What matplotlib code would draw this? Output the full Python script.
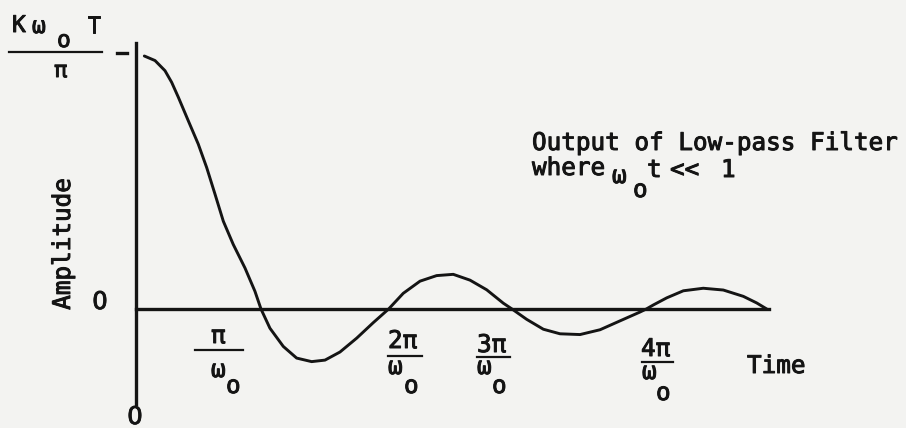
import matplotlib
matplotlib.use("Agg")
import matplotlib.pyplot as plt
from matplotlib.lines import Line2D
import matplotlib.patheffects as pe

W, H = 906, 428

# curve: time in units of pi/omega_o, amplitude relative to the peak
TIME = [0.066, 0.151, 0.230, 0.283, 0.336, 0.415, 0.494, 0.561, 0.627, 0.693,
        0.772, 0.865, 0.944, 0.992,
        1.063, 1.169, 1.275, 1.394, 1.500, 1.619, 1.752, 1.883, 2.005,
        2.121, 2.254, 2.386, 2.518, 2.651, 2.783, 2.915, 2.984,
        3.101, 3.233, 3.365, 3.524, 3.683, 3.841, 4.000, 4.050,
        4.106, 4.212, 4.344, 4.502, 4.661, 4.820, 4.926, 5.006]
AMPLITUDE = [1.000, 0.982, 0.942, 0.896, 0.837, 0.744, 0.652, 0.559, 0.454, 0.347,
             0.255, 0.162, 0.070, 0.0,
             -0.076, -0.148, -0.194, -0.208, -0.202, -0.170, -0.115, -0.054, 0.0,
             0.062, 0.110, 0.132, 0.137, 0.114, 0.076, 0.023, 0.0,
             -0.041, -0.080, -0.098, -0.101, -0.082, -0.047, -0.012, 0.0,
             0.016, 0.044, 0.072, 0.082, 0.075, 0.050, 0.024, 0.0]

TICK_NUMERATORS = ["π", "2π", "3π", "4π"]

INK = "#141414"
PAPER = "#f3f3f1"
FONT = "DejaVu Sans Mono"
FS = 17.5
HEAVY = [pe.withStroke(linewidth=0.7, foreground=INK)]

# pixel mapping of the scan
ORIGIN_PX = 136
PX_PER_T = 126
ZERO_PY = 309
PX_PER_AMP = 253

# fraction label layout in pixels: num_x, num_base, bar_x0, bar_x1, bar_y, om_x, om_base, o_x, o_base
TICK_LAYOUT = [
    (211, 343, 195, 243, 350, 211, 377, 226, 393),
    (388, 348, 388, 422, 356, 388, 374, 404, 393),
    (477, 352, 477, 510, 357, 477, 374, 492, 393),
    (641, 356, 642, 673, 362, 642, 379, 656, 400),
]

fig = plt.figure(figsize=(W / 100, H / 100), dpi=100, facecolor=PAPER)
ax = fig.add_axes([0, 0, 1, 1])
ax.set_facecolor(PAPER)
ax.set_xlim(-ORIGIN_PX / PX_PER_T, (W - ORIGIN_PX) / PX_PER_T)
ax.set_ylim((ZERO_PY - H) / PX_PER_AMP, ZERO_PY / PX_PER_AMP)

ax.plot(TIME, AMPLITUDE, color=INK, lw=2.1, solid_joinstyle="round",
        solid_capstyle="round", zorder=3)

for side in ("top", "right"):
    ax.spines[side].set_visible(False)
ax.spines["left"].set_position(("data", 0))
ax.spines["bottom"].set_position(("data", 0))
ax.spines["left"].set_bounds(-0.375, 1.05)
ax.spines["bottom"].set_bounds(0, TIME[-1] + 0.02)
for side in ("left", "bottom"):
    ax.spines[side].set_linewidth(2.4)
    ax.spines[side].set_color(INK)
ax.set_xticks([])
ax.set_yticks([])


def put(x, y, s, **kw):
    opts = dict(family=FONT, fontsize=FS, color=INK, ha="left", va="baseline",
                path_effects=HEAVY)
    opts.update(kw)
    fig.text(x / W, 1 - y / H, s, **opts)


def bar(x0, x1, y, lw=1.6):
    fig.add_artist(Line2D([x0 / W, x1 / W], [1 - y / H, 1 - y / H],
                          transform=fig.transFigure, color=INK, lw=lw))


# x tick labels as typed fractions
for num, (nx, nb, bx0, bx1, by, ox, ob, sx, sb) in zip(TICK_NUMERATORS, TICK_LAYOUT):
    put(nx, nb, num)
    bar(bx0, bx1, by)
    put(ox, ob, "ω")
    put(sx, sb, "o")

# top y label  K w_o T / pi
put(12, 32, "K", fontsize=16.5)
put(32, 33, "ω", fontsize=16.5)
put(57, 47, "o", fontsize=16.5)
put(87, 33, "T", fontsize=16.5)
bar(9, 102, 52)
put(54, 77, "π", fontsize=16)
bar(117, 127, 53, lw=2.4)

# plain zeros (the mono face draws a dotted zero)
put(100, 302, "0", ha="center", va="center", family="DejaVu Sans")
put(135, 424, "0", ha="center", family="DejaVu Sans")
put(63, 244, "Amplitude", ha="center", va="center", rotation=90)
put(747, 373, "Time")

put(532, 150, "Output of Low-pass Filter")
put(532, 175, "where")
put(612, 183, "ω")
put(633, 197, "o")
put(647, 177, "t")
put(670, 177, "<<")
put(721, 177, "1")

fig.savefig("out.png", dpi=100, facecolor=PAPER)
